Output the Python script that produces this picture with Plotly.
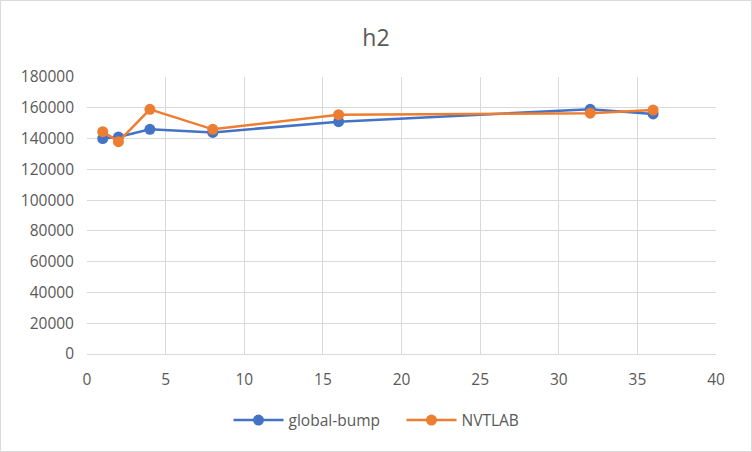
import plotly.graph_objects as go

x_vals = [1, 2, 4, 8, 16, 32, 36]
global_bump = [140000, 141000, 146000, 144000, 151000, 159000, 156000]
nvtlab = [144500, 138000, 159000, 146000, 155500, 156500, 158500]

fig = go.Figure()
fig.add_trace(go.Scatter(x=x_vals, y=global_bump, name="global-bump", mode="lines+markers",
                         line=dict(color="#4472C4", width=2.5), marker=dict(size=11, color="#4472C4")))
fig.add_trace(go.Scatter(x=x_vals, y=nvtlab, name="NVTLAB", mode="lines+markers",
                         line=dict(color="#ED7D31", width=2.5), marker=dict(size=11, color="#ED7D31")))

fig.update_layout(
    width=752, height=452,
    margin=dict(l=87, r=36, t=77, b=98),
    paper_bgcolor="white", plot_bgcolor="white",
    font=dict(family="Open Sans, Liberation Sans, Arial", size=12, color="#595959"),
    title=dict(text="h2", x=0.5, xanchor="center", y=1 - 38/452, yanchor="middle",
               font=dict(size=23, color="#595959")),
    xaxis=dict(range=[0, 40], dtick=5, showgrid=True, gridcolor="#d9d9d9", gridwidth=1,
               zeroline=False, showline=True, linecolor="#d9d9d9", ticks="", ticklen=0,
               ticklabelstandoff=11,
               tickfont=dict(size=15.5, color="#595959")),
    yaxis=dict(range=[0, 180000], dtick=20000, showgrid=True, gridcolor="#d9d9d9", gridwidth=1,
               zeroline=False, showline=False, ticks="", tickformat="d",
               ticklabelstandoff=12,
               tickfont=dict(size=15.5, color="#595959")),
    legend=dict(orientation="h", x=0.5, xanchor="center", y=-0.24, yanchor="middle",
                font=dict(size=15.5, color="#595959"), itemwidth=50, entrywidth=108,
                entrywidthmode="pixels"),
    shapes=[dict(type="rect", xref="paper", yref="paper", x0=-86.5/629, x1=1+35.5/629,
                 y0=-97.5/277, y1=1+76.5/277, line=dict(color="#d9d9d9", width=1))],
)
fig.write_html("out.html", post_script="document.body.style.margin='0';",
               config={"displayModeBar": False})
